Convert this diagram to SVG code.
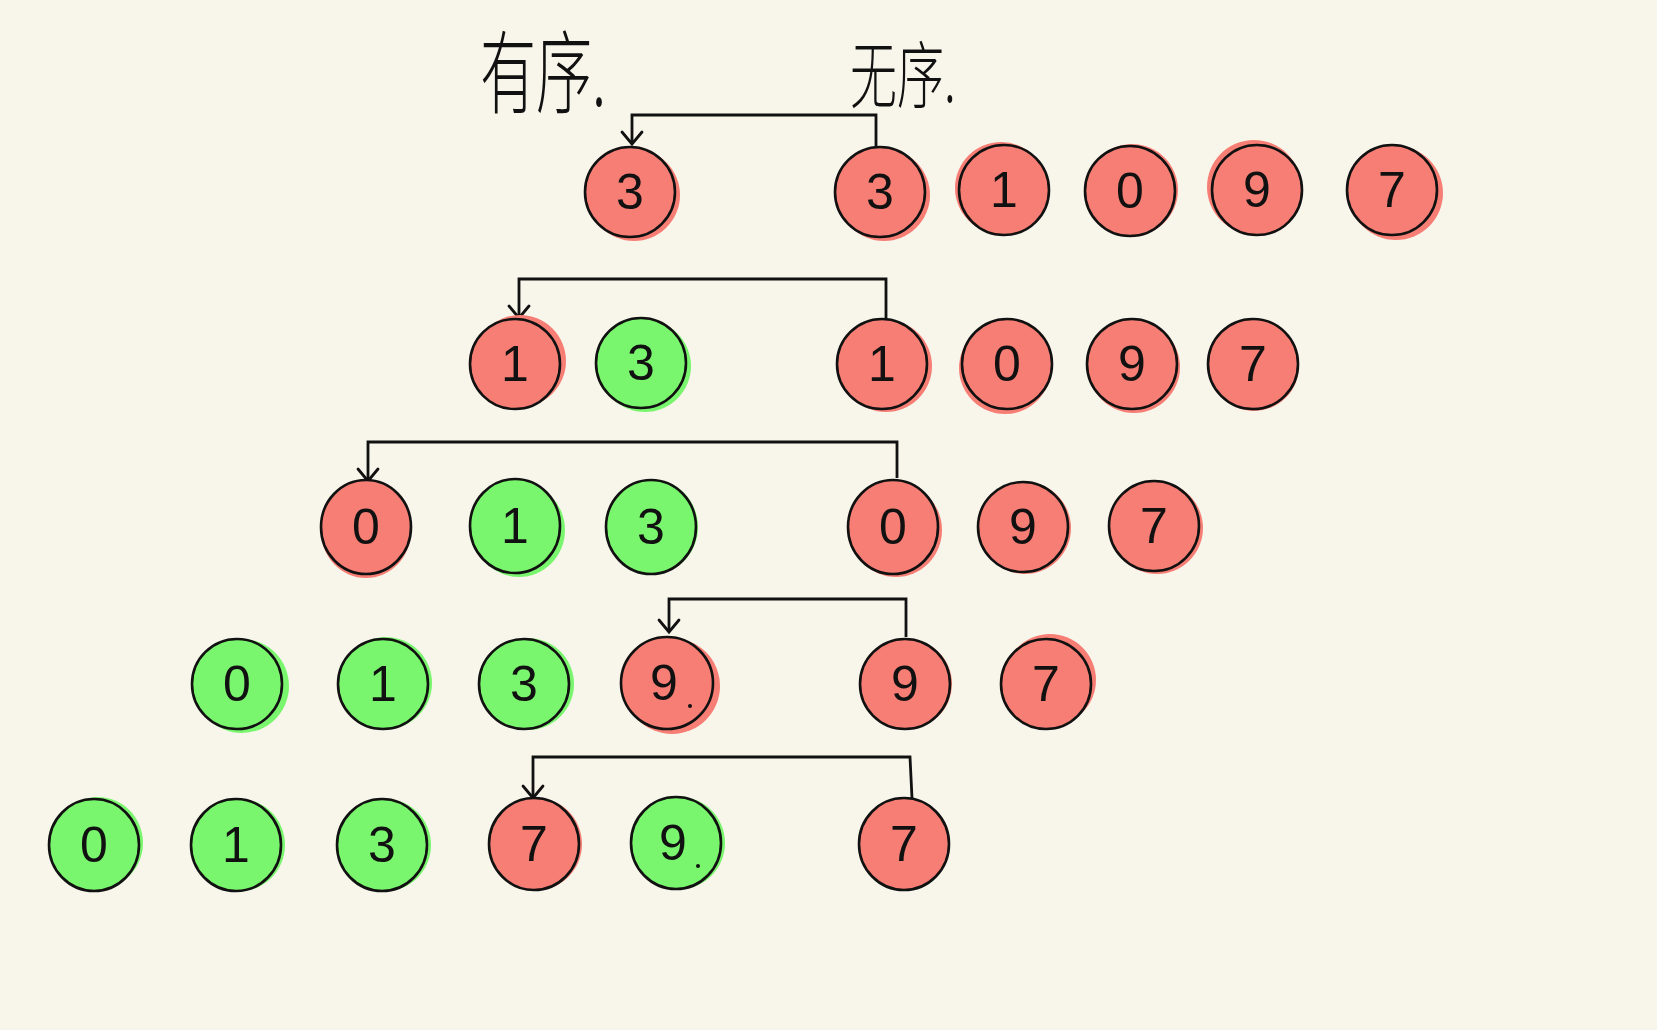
<svg xmlns="http://www.w3.org/2000/svg" width="1657" height="1030" viewBox="0 0 1657 1030">
<style>
.bg{fill:#F8F6EB}
.r .sh,.r .c{fill:#F67E75}
.g .sh,.g .c{fill:#7AF56E}
.c{stroke:#111;stroke-width:2.6}
.t{font-family:"Liberation Sans Narrow","Liberation Sans",sans-serif;font-size:50px;fill:#111;text-anchor:middle;dominant-baseline:central}
.lbl{font-family:"Noto Sans CJK SC",sans-serif;fill:#111;font-weight:300}
.conn{fill:none;stroke:#111;stroke-width:2.8;marker-end:url(#ah)}
</style>
<defs>
<marker id="ah" markerUnits="userSpaceOnUse" markerWidth="30" markerHeight="30" viewBox="-15 -15 30 30" refX="0" refY="0" orient="auto">
<path d="M-12,-10 L0,0 L-12,10" fill="none" stroke="#111" stroke-width="2.8" stroke-linecap="round"/>
</marker>
</defs>
<rect class="bg" x="0" y="0" width="1657" height="1030"/>
<text class="lbl" transform="translate(480,106) scale(1,1.6)" font-size="56">有序.</text>
<text class="lbl" transform="translate(850,102) scale(1,1.55)" font-size="47">无序.</text>
<g id="connectors">
<path class="conn" d="M876,147 V115 H632 V144"/>
<path class="conn" d="M886,318 V279 H519 V318"/>
<path class="conn" d="M897,478 V442 H368 V481"/>
<path class="conn" d="M906,637 V599 H669 V632"/>
<path class="conn" d="M912,798 L910,757 H533 V798"/>
</g>
<!-- row 1 -->
<g id="n1a" class="r"><circle class="sh" cx="634" cy="195" r="46"/><circle class="c" cx="630" cy="192" r="45"/><text class="t" x="630" y="192">3</text></g>
<g id="n1b" class="r"><circle class="sh" cx="884" cy="195" r="46"/><circle class="c" cx="880" cy="192" r="45"/><text class="t" x="880" y="192">3</text></g>
<g id="n1c" class="r"><circle class="sh" cx="1001" cy="188" r="46"/><circle class="c" cx="1004" cy="190" r="45"/><text class="t" x="1004" y="190">1</text></g>
<g id="n1d" class="r"><circle class="sh" cx="1132" cy="190" r="46"/><circle class="c" cx="1130" cy="191" r="45"/><text class="t" x="1130" y="191">0</text></g>
<g id="n1e" class="r"><circle class="sh" cx="1254" cy="187" r="47"/><circle class="c" cx="1257" cy="190" r="45"/><text class="t" x="1257" y="190">9</text></g>
<g id="n1f" class="r"><circle class="sh" cx="1396" cy="193" r="47"/><circle class="c" cx="1392" cy="190" r="45"/><text class="t" x="1392" y="190">7</text></g>
<!-- row 2 -->
<g id="n2a" class="r"><circle class="sh" cx="520" cy="361" r="46"/><circle class="c" cx="515" cy="364" r="45"/><text class="t" x="515" y="364">1</text></g>
<g id="n2b" class="g"><circle class="sh" cx="645" cy="366" r="46"/><circle class="c" cx="641" cy="363" r="45"/><text class="t" x="641" y="363">3</text></g>
<g id="n2c" class="r"><circle class="sh" cx="886" cy="366" r="46"/><circle class="c" cx="882" cy="364" r="45"/><text class="t" x="882" y="364">1</text></g>
<g id="n2d" class="r"><circle class="sh" cx="1005" cy="368" r="46"/><circle class="c" cx="1007" cy="364" r="45"/><text class="t" x="1007" y="364">0</text></g>
<g id="n2e" class="r"><circle class="sh" cx="1134" cy="367" r="46"/><circle class="c" cx="1132" cy="364" r="45"/><text class="t" x="1132" y="364">9</text></g>
<g id="n2f" class="r"><circle class="sh" cx="1254" cy="366" r="45"/><circle class="c" cx="1253" cy="364" r="45"/><text class="t" x="1253" y="364">7</text></g>
<!-- row 3 -->
<g id="n3a" class="r"><ellipse class="sh" cx="366" cy="531" rx="45" ry="47"/><ellipse class="c" cx="366" cy="527" rx="45" ry="47"/><text class="t" x="366" y="527">0</text></g>
<g id="n3b" class="g"><ellipse class="sh" cx="519" cy="530" rx="46" ry="47"/><ellipse class="c" cx="515" cy="526" rx="45" ry="47"/><text class="t" x="515" y="526">1</text></g>
<g id="n3c" class="g"><ellipse class="sh" cx="653" cy="527" rx="45" ry="47"/><ellipse class="c" cx="651" cy="527" rx="45" ry="47"/><text class="t" x="651" y="527">3</text></g>
<g id="n3d" class="r"><ellipse class="sh" cx="896" cy="530" rx="46" ry="47"/><ellipse class="c" cx="893" cy="527" rx="45" ry="47"/><text class="t" x="893" y="527">0</text></g>
<g id="n3e" class="r"><circle class="sh" cx="1025" cy="528" r="46"/><circle class="c" cx="1023" cy="527" r="45"/><text class="t" x="1023" y="527">9</text></g>
<g id="n3f" class="r"><circle class="sh" cx="1157" cy="528" r="46"/><circle class="c" cx="1154" cy="526" r="45"/><text class="t" x="1154" y="526">7</text></g>
<!-- row 4 -->
<g id="n4a" class="g"><circle class="sh" cx="242" cy="686" r="47"/><circle class="c" cx="237" cy="684" r="45"/><text class="t" x="237" y="684">0</text></g>
<g id="n4b" class="g"><circle class="sh" cx="386" cy="683" r="46"/><circle class="c" cx="383" cy="684" r="45"/><text class="t" x="383" y="684">1</text></g>
<g id="n4c" class="g"><circle class="sh" cx="528" cy="684" r="46"/><circle class="c" cx="524" cy="684" r="45"/><text class="t" x="524" y="684">3</text></g>
<g id="n4d" class="r"><circle class="sh" cx="672" cy="686" r="48"/><circle class="c" cx="667" cy="683" r="46"/><text class="t" x="664" y="683">9</text><circle cx="690" cy="706" r="2" fill="#111"/></g>
<g id="n4e" class="r"><circle class="sh" cx="907" cy="684" r="45"/><circle class="c" cx="905" cy="684" r="45"/><text class="t" x="905" y="684">9</text></g>
<g id="n4f" class="r"><circle class="sh" cx="1050" cy="680" r="46"/><circle class="c" cx="1046" cy="684" r="45"/><text class="t" x="1046" y="684">7</text></g>
<!-- row 5 -->
<g id="n5a" class="g"><ellipse class="sh" cx="98" cy="843" rx="45" ry="46"/><ellipse class="c" cx="94" cy="845" rx="45" ry="46"/><text class="t" x="94" y="845">0</text></g>
<g id="n5b" class="g"><ellipse class="sh" cx="240" cy="845" rx="45" ry="46"/><ellipse class="c" cx="236" cy="845" rx="45" ry="46"/><text class="t" x="236" y="845">1</text></g>
<g id="n5c" class="g"><ellipse class="sh" cx="386" cy="845" rx="45" ry="46"/><ellipse class="c" cx="382" cy="845" rx="45" ry="46"/><text class="t" x="382" y="845">3</text></g>
<g id="n5d" class="r"><ellipse class="sh" cx="537" cy="844" rx="45" ry="46"/><ellipse class="c" cx="534" cy="844" rx="45" ry="46"/><text class="t" x="534" y="844">7</text></g>
<g id="n5e" class="g"><ellipse class="sh" cx="680" cy="843" rx="45" ry="46"/><ellipse class="c" cx="676" cy="843" rx="45" ry="46"/><text class="t" x="673" y="843">9</text><circle cx="698" cy="866" r="2" fill="#111"/></g>
<g id="n5f" class="r"><ellipse class="sh" cx="905" cy="844" rx="45" ry="46"/><ellipse class="c" cx="904" cy="844" rx="45" ry="46"/><text class="t" x="904" y="844">7</text></g>
</svg>
